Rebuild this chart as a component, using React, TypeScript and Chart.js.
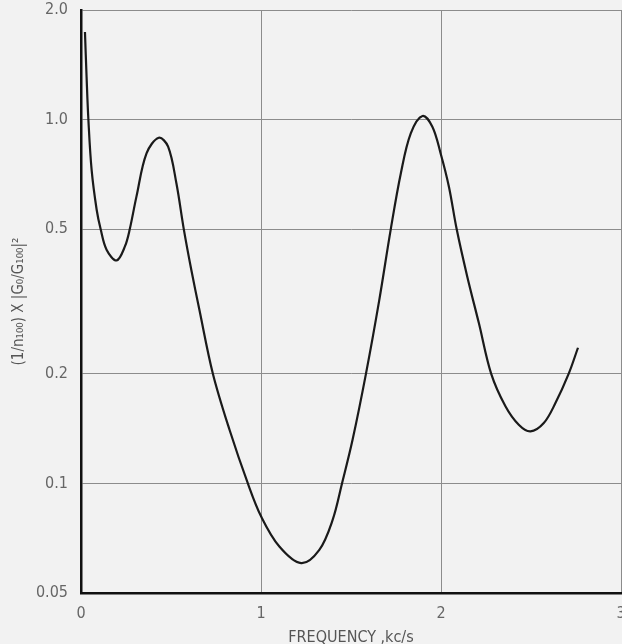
import React, { useEffect, useRef } from "react";
import { Chart, registerables } from "chart.js";

Chart.register(...registerables);

const frequency = [0.022, 0.031, 0.041, 0.059, 0.087, 0.109, 0.142, 0.198, 0.244, 0.271, 0.308, 0.364, 0.432, 0.484, 0.53, 0.571, 0.613, 0.656, 0.733, 0.826, 0.927, 1.001, 1.102, 1.223, 1.324, 1.398, 1.45, 1.509, 1.583, 1.657, 1.721, 1.777, 1.832, 1.897, 1.952, 1.998, 2.044, 2.087, 2.146, 2.211, 2.279, 2.358, 2.432, 2.497, 2.571, 2.635, 2.709, 2.761];
const response = [1.74, 1.31, 1.0, 0.727, 0.565, 0.5, 0.439, 0.41, 0.448, 0.5, 0.614, 0.807, 0.891, 0.842, 0.668, 0.5, 0.386, 0.303, 0.2, 0.14, 0.1, 0.0811, 0.0671, 0.0604, 0.0657, 0.0794, 0.1, 0.132, 0.2, 0.319, 0.5, 0.712, 0.916, 1.023, 0.956, 0.807, 0.654, 0.5, 0.37, 0.275, 0.2, 0.163, 0.145, 0.139, 0.1465, 0.166, 0.2, 0.236];

const yTickValues = [0.05, 0.1, 0.2, 0.5, 1.0, 2.0];
const yTickLabels = ["0.05", "0.1", "0.2", "0.5", "1.0", "2.0"];
const xTickValues = [0, 1, 2, 3];
const xTickLabels = ["0", "1", "2", "3"];

const xTitle = "FREQUENCY ,kc/s";
const yTitle = "(1/n₁₀₀) X |G₀/G₁₀₀|²";

const FONT = "'Liberation Sans Narrow', 'DejaVu Sans Condensed', 'Roboto Condensed', sans-serif";

export default function App() {
  const ref = useRef<HTMLCanvasElement | null>(null);

  useEffect(() => {
    if (!ref.current) return;
    const chart = new Chart(ref.current, {
      type: "line",
      data: {
        datasets: [
          {
            data: frequency.map((f, i) => ({ x: f, y: response[i] })),
            borderColor: "#1a1a1a",
            borderWidth: 2.2,
            pointRadius: 0,
            fill: false,
            tension: 0.35,
          },
        ],
      },
      options: {
        animation: false,
        responsive: false,
        maintainAspectRatio: false,
        layout: { padding: { top: 10, right: 1, left: 0, bottom: 0 } },
        plugins: { legend: { display: false }, tooltip: { enabled: false } },
        scales: {
          x: {
            type: "linear",
            min: 0,
            max: 3,
            afterBuildTicks: (s: any) => {
              s.ticks = xTickValues.map((v) => ({ value: v }));
            },
            afterFit: (s: any) => {
              s.paddingRight = 0;
              s.paddingLeft = 0;
              s.height = 51;
            },
            ticks: {
              callback: (v: any) => {
                const i = xTickValues.indexOf(Number(v));
                return i >= 0 ? xTickLabels[i] : "";
              },
              color: "#666",
              font: { family: FONT, size: 16, lineHeight: 1.1 },
              padding: 12,
              maxRotation: 0,
            },
            grid: {
              drawTicks: false,
              color: (c: any) => (c.tick && c.tick.value === 0 ? "rgba(0,0,0,0)" : "#8c8c8c"),
              lineWidth: 1,
            },
            border: { display: true, color: "#111", width: 2.5 },
            title: {
              display: true,
              text: xTitle,
              color: "#555",
              font: { family: FONT, size: 16, lineHeight: 1.2 },
              padding: { top: 0, bottom: -3 },
            },
          },
          y: {
            type: "logarithmic",
            min: 0.05,
            max: 2.0,
            afterBuildTicks: (s: any) => {
              s.ticks = yTickValues.map((v) => ({ value: v }));
            },
            afterFit: (s: any) => {
              s.width = 81;
              s.paddingTop = 0;
              s.paddingBottom = 0;
            },
            ticks: {
              callback: (v: any) => {
                const i = yTickValues.findIndex((t) => Math.abs(t - Number(v)) < 1e-9);
                return i >= 0 ? yTickLabels[i] : "";
              },
              color: "#666",
              font: { family: FONT, size: 16 },
              padding: 13,
              autoSkip: false,
            },
            grid: {
              drawTicks: false,
              color: (c: any) => (c.tick && Math.abs(c.tick.value - 0.05) < 1e-9 ? "rgba(0,0,0,0)" : "#8c8c8c"),
              lineWidth: 1,
            },
            border: { display: true, color: "#111", width: 2.5 },
            title: {
              display: true,
              text: yTitle,
              color: "#555",
              font: { family: FONT, size: 15 },
              padding: { top: 10, bottom: 0 },
            },
          },
        },
      },
      plugins: [
        {
          id: "bg",
          beforeDraw: (c: any) => {
            const ctx = c.ctx;
            ctx.save();
            ctx.fillStyle = "#f2f2f2";
            ctx.fillRect(0, 0, c.width, c.height);
            ctx.restore();
          },
        },
      ],
    } as any);
    return () => chart.destroy();
  }, []);

  return (
    <div style={{ position: "absolute", left: 0, top: 0, width: 622, height: 644, background: "#f2f2f2", overflow: "hidden" }}>
      <canvas ref={ref} width={622} height={644} style={{ display: "block", width: 622, height: 644 }} />
    </div>
  );
}
